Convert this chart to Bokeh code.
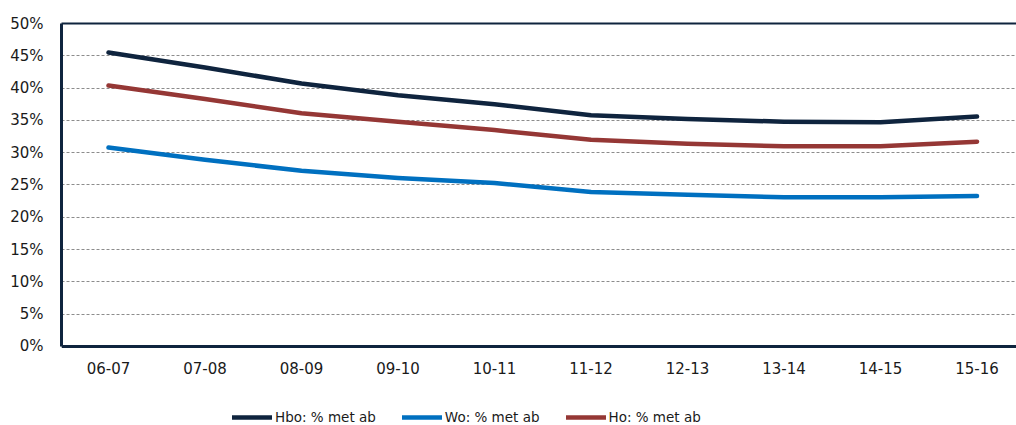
from bokeh.plotting import figure
from bokeh.models import (Range1d, FixedTicker, LinearAxis, PrintfTickFormatter,
                          Legend, LegendItem, ColumnDataSource, Span)
from bokeh.core.properties import value
from bokeh.embed import file_html
from bokeh.resources import INLINE

years = ["06-07", "07-08", "08-09", "09-10", "10-11", "11-12", "12-13", "13-14", "14-15", "15-16"]
hbo = [45.5, 43.2, 40.7, 38.9, 37.5, 35.8, 35.2, 34.8, 34.7, 35.6]
wo = [30.8, 28.9, 27.2, 26.1, 25.3, 23.9, 23.5, 23.1, 23.1, 23.3]
ho = [40.4, 38.3, 36.1, 34.8, 33.5, 32.0, 31.4, 31.0, 31.0, 31.7]
y_ticks = [0, 5, 10, 15, 20, 25, 30, 35, 40, 45, 50]

NAVY = "#0F243E"
BLUE = "#0070C0"
RED = "#953735"
FONT = "DejaVu Sans"
TXT = "#1a1a1a"

x = list(range(len(years)))
src = ColumnDataSource(dict(x=x, hbo=hbo, wo=wo, ho=ho, label=years, base=[0] * len(years)))

# frame spans down to the canvas bottom so the legend (inside the frame) is drawn
p = figure(width=1016, height=425, output_backend="svg", toolbar_location=None,
           x_range=Range1d(-0.487, 9.409), y_range=Range1d(-12.23, 50),
           min_border_left=61, min_border_right=0, min_border_top=23, min_border_bottom=0)
p.outline_line_color = None
p.background_fill_color = "white"
p.border_fill_color = "white"
p.xaxis.visible = False

p.xgrid.grid_line_color = None
p.ygrid.ticker = FixedTicker(ticks=y_ticks)
p.ygrid.grid_line_color = "#8c8c8c"
p.ygrid.grid_line_dash = "3 2"
p.ygrid.grid_line_width = 1

r_hbo = p.line("x", "hbo", source=src, line_color=NAVY, line_width=4.5, line_cap="round", line_join="round")
r_wo = p.line("x", "wo", source=src, line_color=BLUE, line_width=4.5, line_cap="round", line_join="round")
r_ho = p.line("x", "ho", source=src, line_color=RED, line_width=4.5, line_cap="round", line_join="round")

# bottom axis line and category labels
p.add_layout(Span(location=0, dimension="width", line_color=NAVY, line_width=3))
p.text(x="x", y="base", text="label", source=src, y_offset=22,
       text_align="center", text_baseline="middle",
       text_font=value(FONT), text_font_size="15px", text_color=TXT)

# y axis
ya = p.yaxis[0]
ya.ticker = FixedTicker(ticks=y_ticks)
ya.bounds = (0, 50)
ya.formatter = PrintfTickFormatter(format="%d%%")
ya.axis_line_color = NAVY
ya.axis_line_width = 3
ya.major_tick_line_color = None
ya.minor_tick_line_color = None
ya.major_tick_out = 0
ya.major_tick_in = 0
ya.major_label_standoff = 18
ya.major_label_text_font = FONT
ya.major_label_text_font_size = "15px"
ya.major_label_text_color = TXT

# top border
top = LinearAxis(axis_line_color=NAVY, axis_line_width=2, major_tick_line_color=None,
                 minor_tick_line_color=None, major_label_text_font_size="0px",
                 major_tick_out=0, major_tick_in=0, major_label_standoff=0)
top.ticker = FixedTicker(ticks=[])
p.add_layout(top, "above")

legend = Legend(items=[
    LegendItem(label="Hbo: % met ab", renderers=[r_hbo]),
    LegendItem(label="Wo: % met ab", renderers=[r_wo]),
    LegendItem(label="Ho: % met ab", renderers=[r_ho]),
], orientation="horizontal", location=(171, 0))
legend.glyph_width = 40
legend.glyph_height = 16
legend.label_height = 16
legend.label_standoff = 3
legend.spacing = 26
legend.padding = 0
legend.margin = 0
legend.border_line_color = None
legend.background_fill_alpha = 0
legend.label_text_font = FONT
legend.label_text_font_size = "13.5px"
legend.label_text_color = TXT
p.add_layout(legend, "center")

open("out.html", "w").write(file_html(p, INLINE))
